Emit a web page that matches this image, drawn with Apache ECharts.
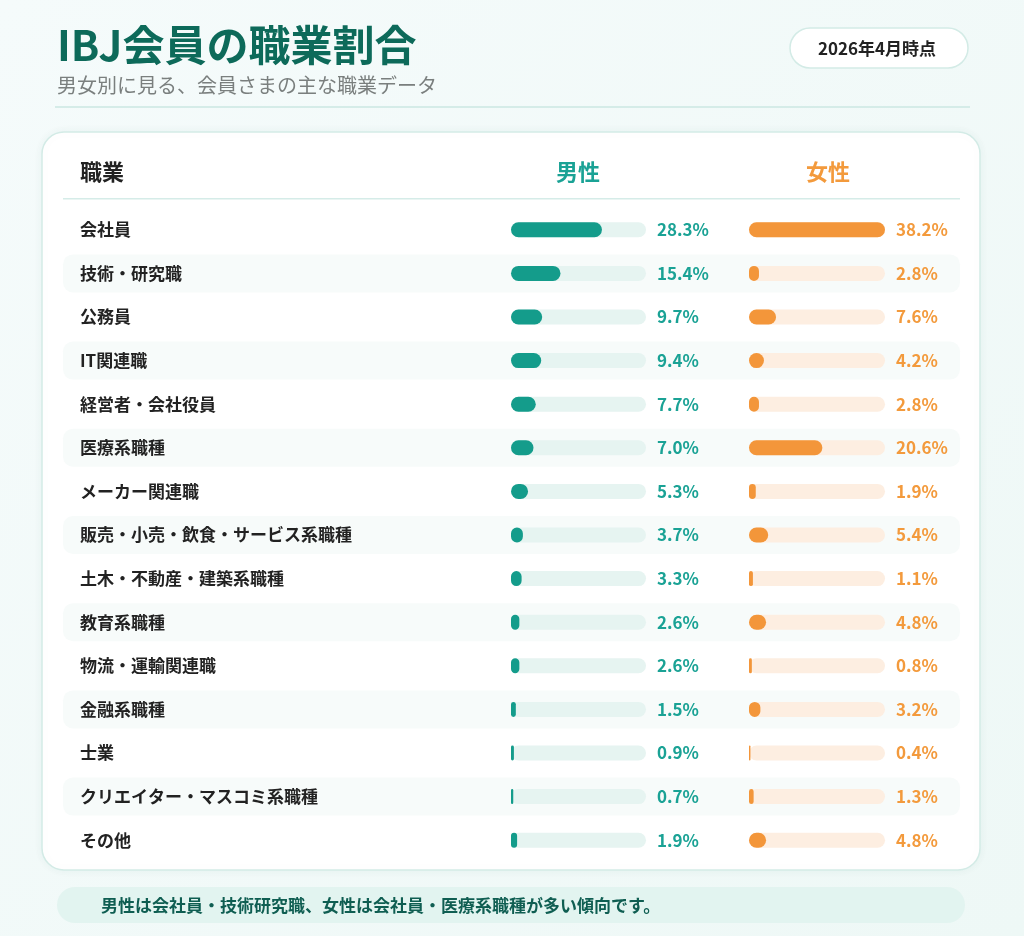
<!DOCTYPE html>
<html>
<head>
<meta charset="utf-8">
<script src="https://cdn.jsdelivr.net/npm/echarts@6/dist/echarts.min.js"></script>
<style>
  html, body { margin: 0; padding: 0; background: #f3faf9; }
  #main { width: 1024px; height: 936px; }
</style>
</head>
<body>
<div id="main"></div>
<script>
// 職業カテゴリ（上から順）
var jobs = [
    '会社員', '技術・研究職', '公務員', 'IT関連職', '経営者・会社役員',
    '医療系職種', 'メーカー関連職', '販売・小売・飲食・サービス系職種',
    '土木・不動産・建築系職種', '教育系職種', '物流・運輸関連職',
    '金融系職種', '士業', 'クリエイター・マスコミ系職種', 'その他'
];
// 男性の割合（%）
var maleValues = [28.3, 15.4, 9.7, 9.4, 7.7, 7.0, 5.3, 3.7, 3.3, 2.6, 2.6, 1.5, 0.9, 0.7, 1.9];
// 女性の割合（%）
var femaleValues = [38.2, 2.8, 7.6, 4.2, 2.8, 20.6, 1.9, 5.4, 1.1, 4.8, 0.8, 3.2, 0.4, 1.3, 4.8];

var maleMax = 42;
var femaleMax = 38.2;
var font = '"Noto Sans CJK JP", "Noto Sans", sans-serif';

var chart = echarts.init(document.getElementById('main'));

// 背景の縞（奇数行だけ薄く塗る）
var stripe = jobs.map(function (j, i) { return i % 2 === 1 ? 1 : 0; });

var gridTop = 208;
var gridBottom = 74;

function yAxisBase(idx, showLabel) {
    return {
        type: 'category',
        gridIndex: idx,
        data: jobs,
        inverse: true,
        axisLine: { show: false },
        axisTick: { show: false },
        splitLine: { show: false },
        axisLabel: showLabel ? {
            show: true,
            align: 'left',
            margin: 431,
            color: '#222',
            fontFamily: font,
            fontWeight: 'bold',
            fontSize: 17
        } : { show: false }
    };
}

function xAxisBase(idx, max) {
    return {
        type: 'value',
        gridIndex: idx,
        min: 0,
        max: max,
        show: false
    };
}

chart.setOption({
    backgroundColor: {
        type: 'linear', x: 0, y: 0, x2: 1, y2: 1,
        colorStops: [{ offset: 0, color: '#f5fbfb' }, { offset: 1, color: '#eef8f6' }]
    },
    graphic: [
        // タイトル
        { type: 'text', x: 57, y: 45, z: 10,
          style: { text: 'IBJ会員の職業割合', fill: '#0d6a5a', font: 'bold 42px ' + font, verticalAlign: 'middle' } },
        { type: 'text', x: 57, y: 85, z: 10,
          style: { text: '男女別に見る、会員さまの主な職業データ', fill: '#7a7f7e', font: '20px ' + font, verticalAlign: 'middle' } },
        { type: 'rect', shape: { x: 55, y: 106, width: 915, height: 2 }, z: 1,
          style: { fill: '#d5ece8' } },
        // 日付バッジ
        { type: 'rect', shape: { x: 790, y: 28, width: 178, height: 40, r: 20 }, z: 1,
          style: { fill: '#ffffff', stroke: '#d3ebe6', lineWidth: 1.5 } },
        { type: 'text', x: 877, y: 49, z: 10,
          style: { text: '2026年4月時点', fill: '#222', font: 'bold 17px ' + font, align: 'center', verticalAlign: 'middle' } },
        // カード
        { type: 'rect', shape: { x: 42, y: 132, width: 938, height: 738, r: 22 }, z: -10,
          style: { fill: '#ffffff', stroke: '#d3ebe6', lineWidth: 1.5, shadowBlur: 10, shadowColor: 'rgba(20,120,100,0.06)' } },
        { type: 'text', x: 80, y: 172, z: 10,
          style: { text: '職業', fill: '#222', font: 'bold 22px ' + font, verticalAlign: 'middle' } },
        { type: 'text', x: 578, y: 172, z: 10,
          style: { text: '男性', fill: '#1aa295', font: 'bold 22px ' + font, align: 'center', verticalAlign: 'middle' } },
        { type: 'text', x: 828, y: 172, z: 10,
          style: { text: '女性', fill: '#f39a3c', font: 'bold 22px ' + font, align: 'center', verticalAlign: 'middle' } },
        { type: 'rect', shape: { x: 63, y: 198, width: 897, height: 1.5 }, z: 1,
          style: { fill: '#d5ece8' } },
        // 下部コメント
        { type: 'rect', shape: { x: 57, y: 887, width: 908, height: 36, r: 18 }, z: 1,
          style: { fill: '#e2f4f0' } },
        { type: 'text', x: 101, y: 906, z: 10,
          style: { text: '男性は会社員・技術研究職、女性は会社員・医療系職種が多い傾向です。', fill: '#0f5e52', font: 'bold 17px ' + font, verticalAlign: 'middle' } }
    ],
    grid: [
        { left: 63, right: 64, top: gridTop, bottom: gridBottom },
        { left: 511, right: 378, top: gridTop, bottom: gridBottom },
        { left: 749, right: 139, top: gridTop, bottom: gridBottom }
    ],
    xAxis: [
        xAxisBase(0, 1),
        xAxisBase(1, maleMax),
        xAxisBase(2, femaleMax)
    ],
    yAxis: [
        yAxisBase(0, false),
        yAxisBase(1, true),
        yAxisBase(2, false)
    ],
    series: [
        {
            type: 'bar', name: 'stripe', xAxisIndex: 0, yAxisIndex: 0,
            data: stripe, barWidth: 38, silent: true, z: 0,
            itemStyle: { color: '#f7fbfa', borderRadius: 10 }
        },
        {
            type: 'bar', name: '男性トラック', xAxisIndex: 1, yAxisIndex: 1,
            data: maleValues.map(function () { return maleMax; }),
            barWidth: 15, barGap: '-100%', silent: true, z: 2,
            itemStyle: { color: '#e6f4f1', borderRadius: 7.5 },
            label: {
                show: true, position: 'right', distance: 11,
                color: '#1aa295', fontFamily: font, fontWeight: 'bold', fontSize: 17,
                formatter: function (p) { return maleValues[p.dataIndex].toFixed(1) + '%'; }
            }
        },
        {
            type: 'bar', name: '男性', xAxisIndex: 1, yAxisIndex: 1,
            data: maleValues, barWidth: 15, barGap: '-100%', z: 3,
            itemStyle: { color: '#149c8b', borderRadius: 7.5 }
        },
        {
            type: 'bar', name: '女性トラック', xAxisIndex: 2, yAxisIndex: 2,
            data: femaleValues.map(function () { return femaleMax; }),
            barWidth: 15, barGap: '-100%', silent: true, z: 2,
            itemStyle: { color: '#fdeee1', borderRadius: 7.5 },
            label: {
                show: true, position: 'right', distance: 11,
                color: '#f39a3c', fontFamily: font, fontWeight: 'bold', fontSize: 17,
                formatter: function (p) { return femaleValues[p.dataIndex].toFixed(1) + '%'; }
            }
        },
        {
            type: 'bar', name: '女性', xAxisIndex: 2, yAxisIndex: 2,
            data: femaleValues, barWidth: 15, barGap: '-100%', z: 3,
            itemStyle: { color: '#f3963a', borderRadius: 7.5 }
        }
    ]
});
</script>
</body>
</html>
